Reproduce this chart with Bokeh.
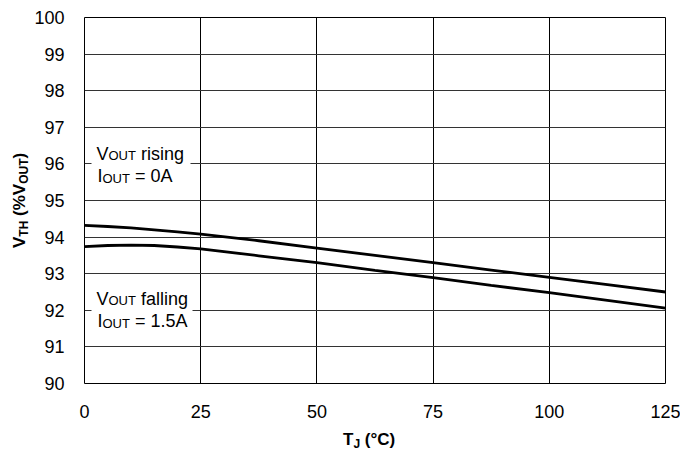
import math
from bokeh.plotting import figure
from bokeh.models import Label, BoxAnnotation, Range1d, Div
from bokeh.layouts import row, column
from bokeh.embed import file_html
from bokeh.resources import INLINE

# ---- data ----
tj = [0, 5, 10, 15, 20, 25, 37.5, 50, 62.5, 75, 87.5, 100, 112.5, 125]
vth_rising = [94.32, 94.29, 94.25, 94.20, 94.14, 94.08, 93.90, 93.70, 93.50, 93.30, 93.10, 92.90, 92.70, 92.50]
vth_falling = [93.74, 93.77, 93.78, 93.77, 93.73, 93.68, 93.49, 93.30, 93.09, 92.89, 92.68, 92.48, 92.27, 92.06]
x_ticks = [0, 25, 50, 75, 100, 125]
y_ticks = [90, 91, 92, 93, 94, 95, 96, 97, 98, 99, 100]

FONT = "Liberation Sans"
YDIV_W = 30

p = figure(width=680 - YDIV_W, height=420, x_range=Range1d(0, 125), y_range=Range1d(90, 100),
           output_backend="svg", toolbar_location=None,
           min_border_left=84 - YDIV_W, min_border_right=15, min_border_top=17, min_border_bottom=37)
p.background_fill_color = "white"
p.border_fill_color = "white"
p.outline_line_color = "black"
p.outline_line_width = 1

for ax in (p.xaxis, p.yaxis):
    ax.axis_line_color = None
    ax.major_tick_line_color = None
    ax.minor_tick_line_color = None
    ax.major_label_text_font = FONT
    ax.major_label_text_font_size = "18px"
    ax.major_label_text_color = "black"
p.xaxis.ticker = x_ticks
p.yaxis.ticker = y_ticks
p.xaxis.major_label_standoff = 15
p.yaxis.major_label_standoff = 14

p.xgrid.ticker = x_ticks
p.ygrid.ticker = y_ticks
p.xgrid.grid_line_color = "black"
p.ygrid.grid_line_color = "#333333"
p.xgrid.grid_line_width = 1
p.ygrid.grid_line_width = 1

p.line(tj, vth_rising, line_color="black", line_width=2.8)
p.line(tj, vth_falling, line_color="black", line_width=2.8)

# Arial-compatible advance widths (em)
W = {"normal": {"V": .667, "O": .778, "U": .722, "T": .611, "I": .278, " ": .278,
                "r": .333, "i": .222, "s": .5, "n": .556, "g": .556, "f": .278, "a": .556,
                "l": .222, "=": .584, "A": .667, ".": .278}}


def width(txt, size, style):
    return sum(W[style].get(c, .556) for c in txt) * size


def compose(pieces, sx, sy):
    """pieces: (text, size, style, drop) placed one after another from (sx, sy) in frame screen units"""
    cum = 0.0
    for txt, size, style, drop in pieces:
        lead = len(txt) - len(txt.lstrip(" "))
        cum += width(" " * lead, size, style)
        t = txt.lstrip(" ")
        p.add_layout(Label(x=sx + cum, y=sy - drop, x_units="screen", y_units="screen", text=t,
                           text_font=FONT, text_font_size=f"{size}px", text_font_style=style,
                           text_color="black", text_align="left", text_baseline="alphabetic"))
        cum += width(t, size, style)


# white boxes behind the in-plot notes
p.add_layout(BoxAnnotation(left=7, right=106, bottom=200, top=244,
                           left_units="screen", right_units="screen",
                           bottom_units="screen", top_units="screen",
                           fill_color="white", fill_alpha=1, line_color=None))
p.add_layout(BoxAnnotation(left=7, right=108, bottom=57, top=99,
                           left_units="screen", right_units="screen",
                           bottom_units="screen", top_units="screen",
                           fill_color="white", fill_alpha=1, line_color=None))

M, S, D = 18, 13, 2
compose([("V", M, "normal", 0), ("OUT", S, "normal", D), (" rising", M, "normal", 0)], 12, 230)
compose([("I", M, "normal", 0), ("OUT", S, "normal", D), (" = 0A", M, "normal", 0)], 13, 207.5)
compose([("V", M, "normal", 0), ("OUT", S, "normal", D), (" falling", M, "normal", 0)], 12, 85)
compose([("I", M, "normal", 0), ("OUT", S, "normal", D), (" = 1.5A", M, "normal", 0)], 13, 62.5)

# axis titles (real HTML text with subscripts)
TSTYLE = ("position:absolute; white-space:nowrap; font-family:'Liberation Sans'; "
          "font-weight:bold; font-size:17px; line-height:17px; color:black; margin:0; padding:0;")
SUB = "font-size:12px; vertical-align:-3px; line-height:0;"

xdiv = Div(width=680 - YDIV_W, height=34, margin=0,
           text=(f'<div style="position:relative; width:{680 - YDIV_W}px; height:34px;">'
                 f'<div style="{TSTYLE} left:{343 - YDIV_W}px; top:11px;">'
                 f'T<sub style="{SUB}">J</sub> (°C)</div></div>'))
ydiv = Div(width=YDIV_W, height=454, margin=0,
           text=(f'<div style="position:relative; width:{YDIV_W}px; height:454px;">'
                 f'<div style="{TSTYLE} left:11px; top:248px; transform:rotate(-90deg); '
                 f'transform-origin:left top;">'
                 f'V<sub style="{SUB}">TH</sub> (%V<sub style="{SUB}">OUT</sub>)</div></div>'))

layout = row(ydiv, column(p, xdiv, spacing=0), spacing=0)

open("out.html", "w").write(file_html(layout, INLINE))
